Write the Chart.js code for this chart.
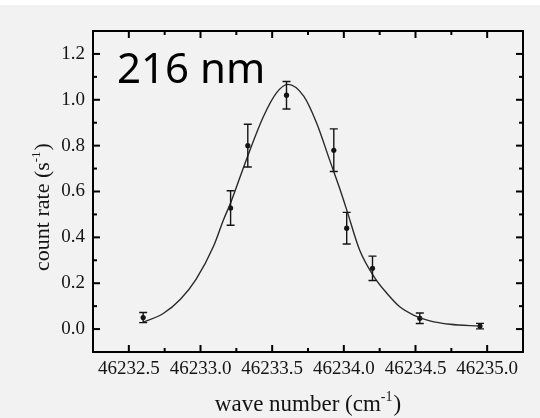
<!DOCTYPE html>
<html>
<head>
<meta charset="utf-8">
<script src="https://cdn.jsdelivr.net/npm/chart.js@4/dist/chart.umd.min.js"></script>
<style>
  html, body { margin: 0; padding: 0; background: #ffffff; }
  canvas { display: block; }
</style>
</head>
<body>
<canvas id="chart" width="540" height="418"></canvas>
<script>
// ---- data ----
const waveNumbers = [46232.60, 46233.21, 46233.33, 46233.60, 46233.93, 46234.02, 46234.20, 46234.53, 46234.95];
const countRates  = [0.050, 0.528, 0.800, 1.020, 0.780, 0.440, 0.265, 0.047, 0.013];
const countErrors = [0.022, 0.075, 0.093, 0.060, 0.093, 0.069, 0.053, 0.023, 0.012];

// fitted curve
const fitWave = [46232.60, 46232.74, 46232.86, 46232.97, 46233.09, 46233.16, 46233.21, 46233.32, 46233.44, 46233.53, 46233.61, 46233.72, 46233.81, 46233.90, 46233.97, 46234.02, 46234.11, 46234.21, 46234.30, 46234.39, 46234.49, 46234.60, 46234.74, 46234.95];
const fitRate = [0.030, 0.068, 0.130, 0.218, 0.360, 0.476, 0.550, 0.739, 0.928, 1.030, 1.067, 1.016, 0.899, 0.739, 0.615, 0.520, 0.345, 0.229, 0.156, 0.097, 0.060, 0.036, 0.021, 0.013];

const xMajorTicks = [46232.5, 46233.0, 46233.5, 46234.0, 46234.5, 46235.0];
const xMinorTicks = [46232.75, 46233.25, 46233.75, 46234.25, 46234.75];
const yMajorTicks = [0.0, 0.2, 0.4, 0.6, 0.8, 1.0, 1.2];
const yMinorTicks = [0.1, 0.3, 0.5, 0.7, 0.9, 1.1];

const panelLabel = '216 nm';
const xTitle = ['wave number (cm', '-1', ')'];
const yTitle = ['count rate (s', '-1', ')'];

const SERIF = '"Liberation Serif", "Times New Roman", serif';
const INK = '#141414';

function drawRich(ctx, parts, size) {
  // parts: [main, superscript, tail]; centred on the current origin, baseline 0
  const mainFont = size + 'px ' + SERIF;
  const supFont = Math.round(size * 0.6) + 'px ' + SERIF;
  ctx.font = mainFont; const w0 = ctx.measureText(parts[0]).width;
  ctx.font = supFont;  const w1 = ctx.measureText(parts[1]).width;
  ctx.font = mainFont; const w2 = ctx.measureText(parts[2]).width;
  const total = w0 + w1 + w2 + 1;
  let x = -total / 2;
  ctx.font = mainFont; ctx.fillText(parts[0], x, 0); x += w0;
  ctx.font = supFont;  ctx.fillText(parts[1], x, -size * 0.42); x += w1 + 1;
  ctx.font = mainFont; ctx.fillText(parts[2], x, 0);
}

const decor = {
  id: 'decor',
  beforeDraw(chart) {
    const c = chart.ctx;
    c.save();
    c.fillStyle = '#ffffff';
    c.fillRect(0, 0, chart.width, chart.height);
    c.fillStyle = '#f2f2f2';
    c.fillRect(0, 5, chart.width, chart.height - 5);
    c.restore();
  },
  afterDatasetsDraw(chart) {
    const c = chart.ctx, xs = chart.scales.x, ys = chart.scales.y;
    c.save();
    c.strokeStyle = INK;
    c.lineWidth = 1.4;
    waveNumbers.forEach((w, i) => {
      const px = xs.getPixelForValue(w);
      const top = ys.getPixelForValue(countRates[i] + countErrors[i]);
      const bot = ys.getPixelForValue(countRates[i] - countErrors[i]);
      c.beginPath();
      c.moveTo(px, top); c.lineTo(px, bot);
      c.moveTo(px - 4, top); c.lineTo(px + 4, top);
      c.moveTo(px - 4, bot); c.lineTo(px + 4, bot);
      c.stroke();
    });
    c.restore();
  },
  afterDraw(chart) {
    const c = chart.ctx, xs = chart.scales.x, ys = chart.scales.y;
    const a = chart.chartArea;
    c.save();
    c.strokeStyle = '#000';
    c.lineWidth = 2;
    c.strokeRect(a.left, a.top, a.right - a.left, a.bottom - a.top);
    const tick = (x1, y1, x2, y2) => { c.beginPath(); c.moveTo(x1, y1); c.lineTo(x2, y2); c.stroke(); };
    xMajorTicks.forEach(v => { const p = xs.getPixelForValue(v); tick(p, a.bottom, p, a.bottom - 7); tick(p, a.top, p, a.top + 7); });
    xMinorTicks.forEach(v => { const p = xs.getPixelForValue(v); tick(p, a.bottom, p, a.bottom - 4); tick(p, a.top, p, a.top + 4); });
    yMajorTicks.forEach(v => { const p = ys.getPixelForValue(v); tick(a.left, p, a.left + 7, p); tick(a.right, p, a.right - 7, p); });
    yMinorTicks.forEach(v => { const p = ys.getPixelForValue(v); tick(a.left, p, a.left + 4, p); tick(a.right, p, a.right - 4, p); });

    // panel label
    c.fillStyle = '#000';
    c.font = '42px "Noto Sans", "Open Sans", sans-serif';
    c.textBaseline = 'alphabetic';
    c.textAlign = 'left';
    c.fillText(panelLabel, a.left + 24, a.top + 52);

    // axis titles
    c.fillStyle = INK;
    c.save();
    c.translate((a.left + a.right) / 2, 411);
    drawRich(c, xTitle, 23);
    c.restore();
    c.save();
    c.translate(49, 207);
    c.rotate(-Math.PI / 2);
    drawRich(c, yTitle, 22);
    c.restore();
    c.restore();
  }
};

new Chart(document.getElementById('chart'), {
  type: 'scatter',
  data: {
    datasets: [
      {
        label: 'fit',
        data: fitWave.map((w, i) => ({ x: w, y: fitRate[i] })),
        showLine: true,
        borderColor: '#2a2a2a',
        borderWidth: 1.4,
        pointRadius: 0,
        cubicInterpolationMode: 'monotone',
        fill: false
      },
      {
        label: 'count rate',
        data: waveNumbers.map((w, i) => ({ x: w, y: countRates[i] })),
        showLine: false,
        pointRadius: 2.6,
        pointBackgroundColor: INK,
        pointBorderColor: INK,
        pointBorderWidth: 0
      }
    ]
  },
  options: {
    responsive: false,
    devicePixelRatio: 1,
    animation: false,
    layout: { padding: { top: 31, right: 17, left: 0, bottom: 0 } },
    plugins: { legend: { display: false }, tooltip: { enabled: false } },
    scales: {
      x: {
        type: 'linear',
        position: 'bottom',
        min: 46232.25,
        max: 46235.25,
        grid: { display: false, drawTicks: false },
        border: { display: false },
        afterBuildTicks: s => { s.ticks = xMajorTicks.map(v => ({ value: v })); },
        afterFit: s => { s.height = 66; },
        ticks: {
          autoSkip: false, maxRotation: 0, padding: 6,
          color: INK,
          font: { family: SERIF, size: 19 },
          callback: v => Number(v).toFixed(1)
        }
      },
      y: {
        type: 'linear',
        min: -0.1,
        max: 1.3,
        grid: { display: false, drawTicks: false },
        border: { display: false },
        afterBuildTicks: s => { s.ticks = yMajorTicks.map(v => ({ value: v })); },
        afterFit: s => { s.width = 93; },
        ticks: {
          autoSkip: false, padding: 8,
          color: INK,
          font: { family: SERIF, size: 19 },
          callback: v => Number(v).toFixed(1)
        }
      }
    }
  },
  plugins: [decor]
});
</script>
</body>
</html>
